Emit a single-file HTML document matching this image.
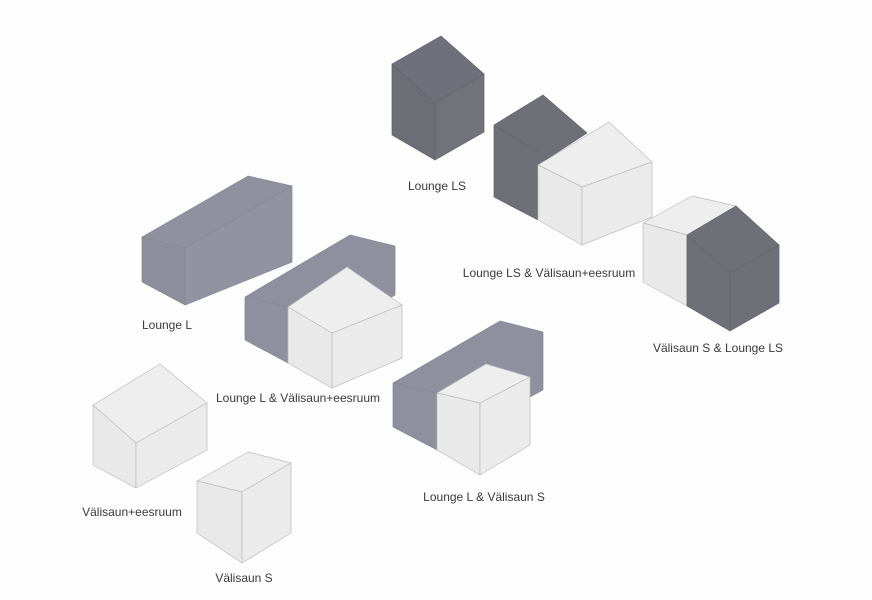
<!DOCTYPE html>
<html><head><meta charset="utf-8"><style>
html,body{margin:0;padding:0;background:#fff;}
svg{display:block}
text{font-family:"Liberation Sans",sans-serif;font-size:12px;fill:#3a3a3a;}
</style></head><body>
<svg width="872" height="600" viewBox="0 0 872 600" xmlns="http://www.w3.org/2000/svg">
<rect width="872" height="600" fill="#fdfdfd"/>
<g stroke-linejoin="round" stroke-width="0.7">
<!-- Lounge LS -->
<polygon points="392,64 441,36 484,74 435,103" fill="#6f7079" stroke="#62636b"/>
<polygon points="392,64 435,103 435,160 392,135" fill="#6c6d75" stroke="#62636b"/>
<polygon points="435,103 484,74 484,132 435,160" fill="#71727a" stroke="#62636b"/>
<!-- Lounge LS & Välisaun+eesruum -->
<polygon points="494,125 543,95 587,133 538,165 538,220 494,197" fill="#6e6f77" stroke="#62636b"/>
<line x1="494" y1="125" x2="538" y2="152" stroke="#64656d"/>
<polygon points="538,165 609,122 652,162 582,187" fill="#eeeeef" stroke="#bcbcbc"/>
<polygon points="538,165 582,187 582,245 538,220" fill="#e9e9ea" stroke="#bcbcbc"/>
<polygon points="582,187 652,162 652,217 582,245" fill="#ebebeb" stroke="#bcbcbc"/>
<!-- Välisaun S & Lounge LS -->
<polygon points="643,223 692,196 736,206 687,235" fill="#eeeeef" stroke="#bcbcbc"/>
<polygon points="643,223 687,235 687,306 643,282" fill="#e9e9ea" stroke="#bcbcbc"/>
<polygon points="687,235 736,206 779,245 779,303 730,331 687,306" fill="#6e6f77" stroke="#62636b"/>
<polyline points="687,235 730,273 779,245" fill="none" stroke="#64656d"/>
<line x1="730" y1="273" x2="730" y2="331" stroke="#64656d"/>
<!-- Lounge L -->
<polygon points="142,237 248,176 292,186 185,248" fill="#8f929e" stroke="#868995"/>
<polygon points="142,237 185,248 185,305 142,282" fill="#8c8f9b" stroke="#868995"/>
<polygon points="185,248 292,186 292,262 185,305" fill="#9194a0" stroke="#868995"/>
<!-- Lounge L & Välisaun+eesruum -->
<polygon points="245,297 350,235 395,246 395,295 288,363 245,340" fill="#8e919d" stroke="#868995"/>
<line x1="245" y1="297" x2="288" y2="307" stroke="#868995"/>
<polygon points="288,307 347,267 402,305 332,333" fill="#eeeeef" stroke="#bcbcbc"/>
<polygon points="288,307 332,333 332,388 288,363" fill="#e9e9ea" stroke="#bcbcbc"/>
<polygon points="332,333 402,305 402,358 332,388" fill="#ebebeb" stroke="#bcbcbc"/>
<!-- Lounge L & Välisaun S -->
<polygon points="393,383 500,321 543,332 543,390 530,397 437,450 393,427" fill="#8e919d" stroke="#868995"/>
<line x1="393" y1="383" x2="437" y2="393" stroke="#868995"/>
<polygon points="437,393 486,364 530,377 480,403" fill="#eeeeef" stroke="#bcbcbc"/>
<polygon points="437,393 480,403 480,475 437,450" fill="#e9e9ea" stroke="#bcbcbc"/>
<polygon points="480,403 530,377 530,445 480,475" fill="#ebebeb" stroke="#bcbcbc"/>
<!-- Välisaun+eesruum -->
<polygon points="93,405 160,364 207,403 136,443" fill="#eeeeef" stroke="#bcbcbc"/>
<polygon points="93,405 136,443 136,488 93,465" fill="#e9e9ea" stroke="#bcbcbc"/>
<polygon points="136,443 207,403 207,450 136,488" fill="#ebebeb" stroke="#bcbcbc"/>
<!-- Välisaun S -->
<polygon points="197,481 248,452 291,463 242,492" fill="#eeeeef" stroke="#bcbcbc"/>
<polygon points="197,481 242,492 242,563 197,533" fill="#e9e9ea" stroke="#bcbcbc"/>
<polygon points="242,492 291,463 291,533 242,563" fill="#ebebeb" stroke="#bcbcbc"/>
</g>
<text x="437" y="190" text-anchor="middle">Lounge LS</text>
<text x="549" y="277" text-anchor="middle">Lounge LS &amp; Välisaun+eesruum</text>
<text x="167" y="329" text-anchor="middle">Lounge L</text>
<text x="298" y="402" text-anchor="middle">Lounge L &amp; Välisaun+eesruum</text>
<text x="718" y="352" text-anchor="middle">Välisaun S &amp; Lounge LS</text>
<text x="484" y="501" text-anchor="middle">Lounge L &amp; Välisaun S</text>
<text x="132" y="516" text-anchor="middle">Välisaun+eesruum</text>
<text x="244" y="582" text-anchor="middle">Välisaun S</text>
</svg>
</body></html>
